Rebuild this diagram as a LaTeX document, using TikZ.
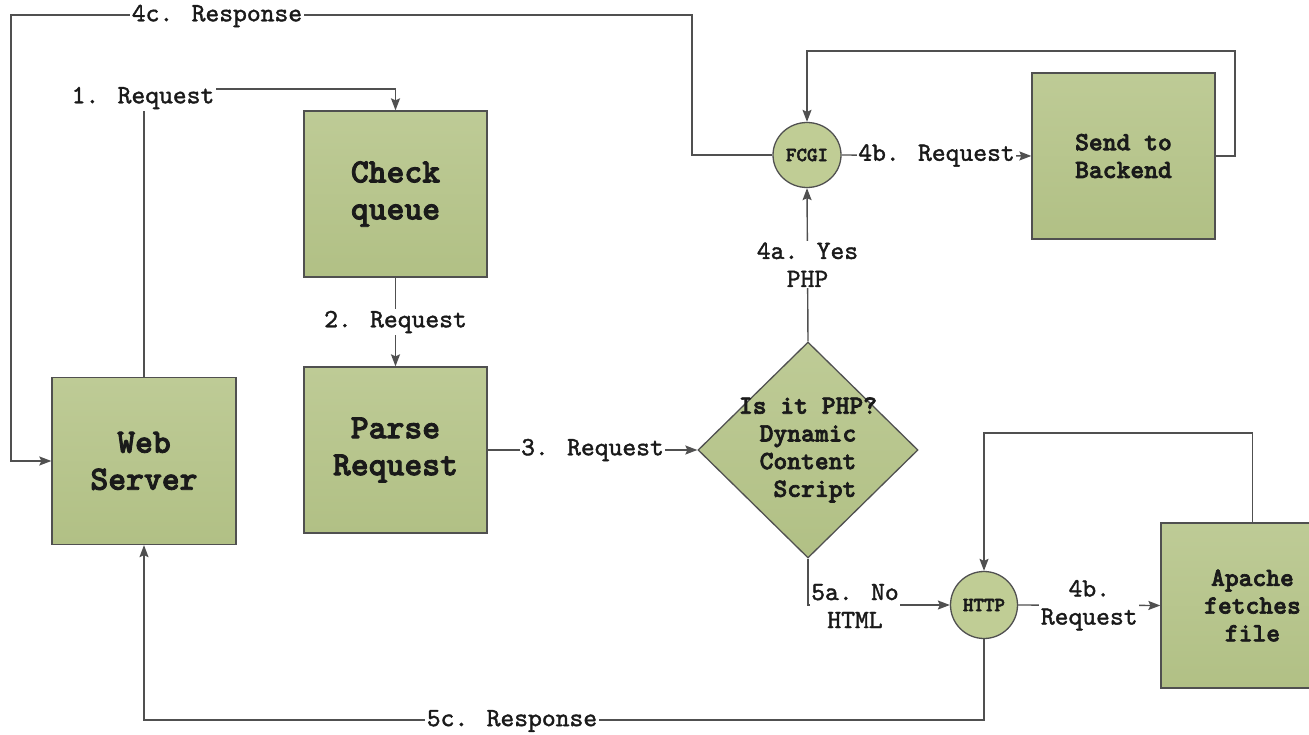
\documentclass[tikz,border=0pt]{standalone}
\usepackage{fontspec}
\newfontfamily\monobold{lmmonolt10-bold.otf}[FakeBold=2.5]
\newfontfamily\monolabel{lmmono10-regular.otf}[FakeBold=1.5]
\usetikzlibrary{shapes.geometric,arrows.meta,shadings}

\definecolor{linec}{HTML}{505050}
\definecolor{txt}{HTML}{1A1A1A}
\definecolor{fillTop}{HTML}{BECB96}
\definecolor{fillBot}{HTML}{B1C085}
\definecolor{circFill}{HTML}{C0CD95}

\begin{document}
\begin{tikzpicture}[x=1pt,y=-1pt,
  conn/.style={draw=linec, line width=1.4pt, -{Stealth[length=12pt,width=9pt,inset=2pt]}},
  procbox/.style={draw=linec, line width=1.3pt, top color=fillTop, bottom color=fillBot,
    minimum width=184pt, minimum height=167pt, inner sep=0pt, align=center, text=txt,
    font=\monobold\fontsize{34}{37}\selectfont},
  smallbox/.style={procbox, font=\monobold\fontsize{26.3}{27.7}\selectfont},
  decision/.style={diamond, draw=linec, line width=1.3pt, top color=fillTop, bottom color=fillBot,
    minimum width=220pt, minimum height=216pt, inner sep=0pt},
  dtext/.style={align=center, text=txt, inner sep=0pt,
    font=\monobold\fontsize{26.3}{27.7}\selectfont},
  proto/.style={ellipse, draw=linec, line width=1.3pt, fill=circFill, inner sep=0pt,
    text=txt, font=\monobold\fontsize{20}{22}\selectfont},
  elabel/.style={fill=white, inner sep=1.5pt, text=txt, align=center,
    font=\monolabel\fontsize{26.3}{28}\selectfont},
]
\useasboundingbox (0,0) rectangle (1309,735);
\clip (0,0) rectangle (1309,735);
\fill[white] (0,0) rectangle (1309,735);

% processing steps
\node[procbox] (ws) at (144,461) {Web\\Server};
\node[procbox, minimum width=183pt, minimum height=166pt] (cq) at (395.5,194) {Check\\queue};
\node[procbox, minimum width=183pt, minimum height=166pt] (pr) at (395.5,450) {Parse\\Request};
\node[decision] (dia) at (808,450) {};
\node[dtext] (diatext) at (dia.center) {Is it PHP?\\Dynamic\\Content\\\ Script};
\node[proto, minimum width=68pt, minimum height=65pt] (fcgi) at (807,155) {FCGI};
\node[proto, minimum width=67pt, minimum height=67pt] (http) at (984,605) {HTTP};
\node[smallbox, minimum width=183pt, minimum height=166pt] (sb) at (1123.5,156) {Send to\\Backend};
\node[smallbox, minimum width=183pt, minimum height=165pt] (ap) at (1252.5,605.5) {Apache\\fetches\\file};

% bend points of the routed connectors
\coordinate (r1) at (144,89);
\coordinate (r4c1) at (692,155);
\coordinate (r4c2) at (692,15);
\coordinate (r4c3) at (11,15);
\coordinate (r4c4) at (11,461);
\coordinate (rsb1) at (1235,156);
\coordinate (rsb2) at (1235,51);
\coordinate (rap) at (1252.5,433);
\coordinate (r5c) at (984,720);

% 1. request into the queue
\draw[conn] (ws.north) -- (r1) -| (cq.north);
\node[elabel] (l1) at (143,98) {1. Request};

% 2. and 3.
\draw[conn] (cq.south) -- (pr.north) node[elabel, midway] (l2) {2. Request};
\draw[conn] (pr.east) -- (dia.west) node[elabel, midway] (l3) {3. Request};

% PHP branch
\draw[conn] (dia.north) -- (fcgi.south) node[elabel, midway] (l4a) {4a. Yes\\PHP};
\draw[conn] (fcgi.east) -- (sb.west) node[elabel, midway] (l4b) {4b. Request};
\draw[conn] (sb.east) -- (rsb1) -- (rsb2) -| (fcgi.north);
\draw[conn] (fcgi.west) -- (r4c1) -- (r4c2) -- (r4c3) -- (r4c4) -- (ws.west);
\node[elabel] (l4c) at (217,16) {4c. Response};

% static branch
\draw[conn] (dia.south) |- (http.west);
\node[elabel] (l5a) at (855,606) {5a. No\\HTML};
\draw[conn] (http.east) -- (ap.west) node[elabel, midway] (l4b2) {4b.\\Request};
\draw[conn] (ap.north) -- (rap) -| (http.north);
\draw[conn] (http.south) -- (r5c) -| (ws.south);
\node[elabel] (l5c) at (512,721) {5c. Response};
\end{tikzpicture}
\end{document}
